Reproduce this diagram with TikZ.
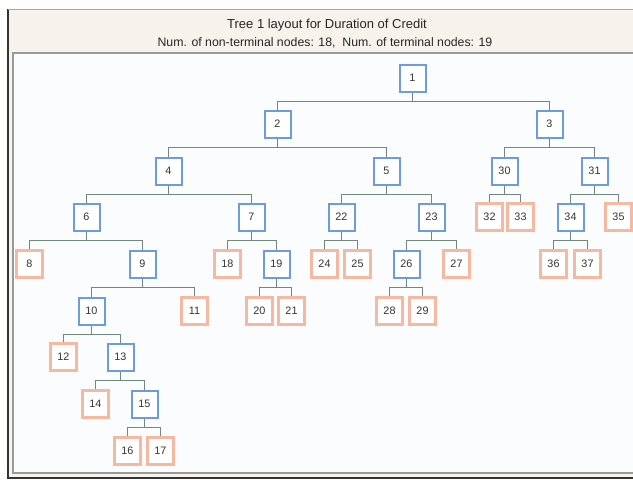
\documentclass[tikz,border=0pt]{standalone}
\usepackage{fontspec}
\setmainfont{Liberation Sans}
\definecolor{cream}{HTML}{F7F3EC}
\definecolor{panel}{HTML}{FBFCFD}
\definecolor{nonterm}{HTML}{6E9BE0}
\definecolor{term}{HTML}{F6B8A0}
\definecolor{edgec}{HTML}{6F8A7A}
\definecolor{txt}{HTML}{333333}
\tikzset{
  inner/.style={draw=nonterm, line width=2pt, fill=white, minimum width=26pt, minimum height=27pt, inner sep=0pt, font=\fontsize{10.8}{11}\selectfont, text=txt},
  leaf/.style={draw=term, line width=3pt, fill=white, minimum width=26pt, minimum height=27pt, inner sep=0pt, font=\fontsize{10.8}{11}\selectfont, text=txt},
  edge/.style={draw=edgec, line width=1.5pt},
}
\newcommand{\split}[3]{%
  \draw[edge] (#1.south) -- ([yshift=-23.5pt]#1.center);
  \draw[edge] (#2.north) |- ([yshift=-23.5pt]#1.center) -| (#3.north);}
\begin{document}
\begin{tikzpicture}[x=1pt,y=-1pt]
\useasboundingbox (0,0) rectangle (633,480);
\fill[white] (0,0) rectangle (633,480);
% window frame
\fill[cream] (8,9) rectangle (633,478);
\draw[black!80, line width=1.5pt] (8,9) -- (8,478) -- (633,478);
\draw[black!35, line width=0.8pt] (8,9) -- (633,9);
\fill[panel] (13,53) rectangle (633,473);
\draw[black!40, line width=1.2pt] (633,53) -- (13,53) -- (13,473) -- (633,473);
\node[font=\fontsize{13}{14}\selectfont, text=black!85] (title) at (327,25) {Tree 1 layout for Duration of Credit};
\node[font=\fontsize{12.3}{14}\selectfont, text=black!85] (sub) at (325,43) {Num. of non-terminal nodes: 18,\ \ Num. of terminal nodes: 19};
% level 0
\node[inner] (n1) at (412.5,78) {1};
% level 1
\node[inner] (n2) at (277.5,124) {2};
\node[inner] (n3) at (549.5,124) {3};
% level 2
\node[inner] (n4) at (168.5,171) {4};
\node[inner] (n5) at (386.5,171) {5};
\node[inner] (n30) at (504.5,171) {30};
\node[inner] (n31) at (594.5,171) {31};
% level 3
\node[inner] (n6) at (86.5,217) {6};
\node[inner] (n7) at (251.5,217) {7};
\node[inner] (n22) at (341.5,217) {22};
\node[inner] (n23) at (431.5,217) {23};
\node[leaf] (n32) at (489.5,217) {32};
\node[leaf] (n33) at (520.5,217) {33};
\node[inner] (n34) at (570.5,217) {34};
\node[leaf] (n35) at (618.5,217) {35};
% level 4
\node[leaf] (n8) at (29.5,264) {8};
\node[inner] (n9) at (142.5,264) {9};
\node[leaf] (n18) at (227.5,264) {18};
\node[inner] (n19) at (276.5,264) {19};
\node[leaf] (n24) at (324.5,264) {24};
\node[leaf] (n25) at (357.5,264) {25};
\node[inner] (n26) at (406.5,264) {26};
\node[leaf] (n27) at (456.5,264) {27};
\node[leaf] (n36) at (553.5,264) {36};
\node[leaf] (n37) at (587.5,264) {37};
% level 5
\node[inner] (n10) at (91.5,311) {10};
\node[leaf] (n11) at (194.5,311) {11};
\node[leaf] (n20) at (259.5,311) {20};
\node[leaf] (n21) at (291.5,311) {21};
\node[leaf] (n28) at (389.5,311) {28};
\node[leaf] (n29) at (422.5,311) {29};
% level 6
\node[leaf] (n12) at (63.5,357) {12};
\node[inner] (n13) at (120.5,357) {13};
% level 7
\node[leaf] (n14) at (95.5,404) {14};
\node[inner] (n15) at (144.5,404) {15};
% level 8
\node[leaf] (n16) at (127.5,451) {16};
\node[leaf] (n17) at (160.5,451) {17};
% edges
\split{n1}{n2}{n3}
\split{n2}{n4}{n5}
\split{n3}{n30}{n31}
\split{n4}{n6}{n7}
\split{n5}{n22}{n23}
\split{n30}{n32}{n33}
\split{n31}{n34}{n35}
\split{n6}{n8}{n9}
\split{n7}{n18}{n19}
\split{n22}{n24}{n25}
\split{n23}{n26}{n27}
\split{n34}{n36}{n37}
\split{n9}{n10}{n11}
\split{n19}{n20}{n21}
\split{n26}{n28}{n29}
\split{n10}{n12}{n13}
\split{n13}{n14}{n15}
\split{n15}{n16}{n17}
\end{tikzpicture}
\end{document}
